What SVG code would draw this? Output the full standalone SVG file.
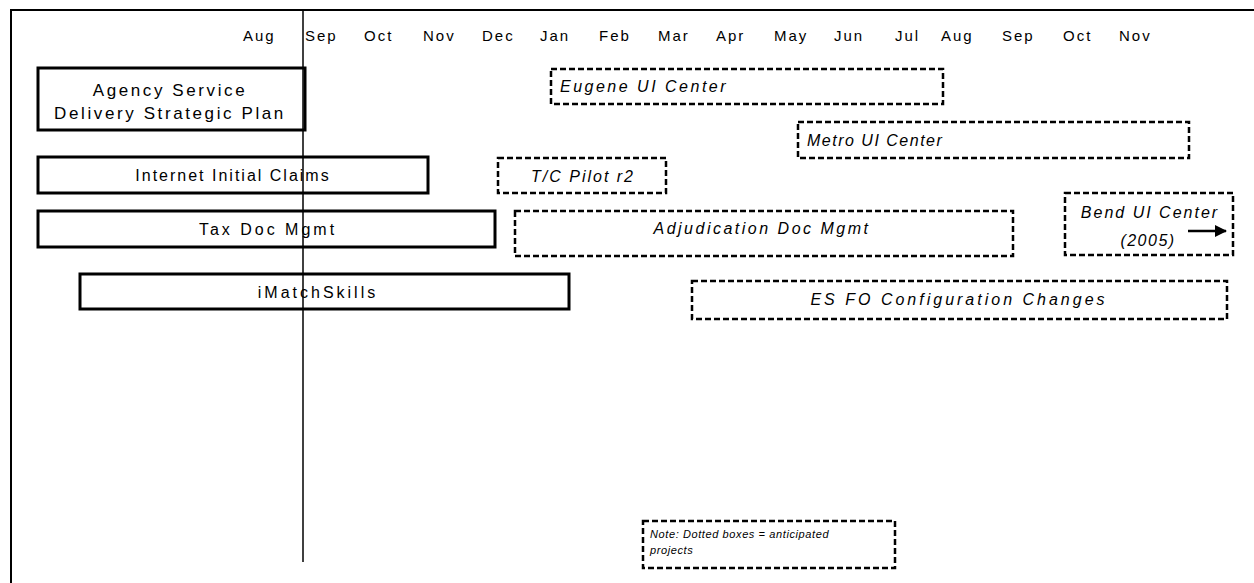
<svg xmlns="http://www.w3.org/2000/svg" width="1254" height="583" viewBox="0 0 1254 583">
<defs>
<style>
.frame{stroke:#000;fill:none}
.solid{fill:#fff;stroke:#000;stroke-width:3}
.dash{fill:#fff;stroke:#000;stroke-width:2.5;stroke-dasharray:6 3}
.t{font-family:"Liberation Sans",Arial,sans-serif;font-size:16px;letter-spacing:2.5px;fill:#000}
.m{font-family:"Liberation Sans",Arial,sans-serif;font-size:15px;letter-spacing:2px;fill:#000}
.i{font-style:italic}
.note{font-family:"Liberation Sans",Arial,sans-serif;font-size:11px;font-style:italic;fill:#000;letter-spacing:0.6px}
</style>
<marker id="ah" markerWidth="12" markerHeight="12" refX="11" refY="6" orient="auto" markerUnits="userSpaceOnUse">
<path d="M0,0 L12,6 L0,12 Z" fill="#000"/>
</marker>
</defs>
<rect width="1254" height="583" fill="#fff"/>
<g id="frame">
<line class="frame" x1="10" y1="10" x2="1254" y2="10" stroke-width="2"/>
<line class="frame" x1="11" y1="10" x2="11" y2="583" stroke-width="2"/>
</g>
<g id="months" class="m">
<text x="243" y="41">Aug</text>
<text x="305" y="41">Sep</text>
<text x="364" y="41">Oct</text>
<text x="423" y="41">Nov</text>
<text x="482" y="41">Dec</text>
<text x="540" y="41">Jan</text>
<text x="599" y="41">Feb</text>
<text x="658" y="41">Mar</text>
<text x="716" y="41">Apr</text>
<text x="774" y="41">May</text>
<text x="834" y="41">Jun</text>
<text x="895" y="41">Jul</text>
<text x="941" y="41">Aug</text>
<text x="1002" y="41">Sep</text>
<text x="1063" y="41">Oct</text>
<text x="1119" y="41">Nov</text>
</g>
<g id="agency">
<rect class="solid" x="38" y="68" width="267" height="62"/>
<text class="t" x="170" y="96" text-anchor="middle" style="font-size:17px;letter-spacing:2.6px">Agency Service</text>
<text class="t" x="170" y="119" text-anchor="middle" style="font-size:17px;letter-spacing:2.6px">Delivery Strategic Plan</text>
</g>
<g id="internet">
<rect class="solid" x="38" y="157" width="390" height="36"/>
<text class="t" x="233" y="181" text-anchor="middle" style="letter-spacing:2px">Internet Initial Claims</text>
</g>
<g id="taxdoc">
<rect class="solid" x="38" y="211" width="457" height="36"/>
<text class="t" x="268" y="235" text-anchor="middle" style="letter-spacing:3px">Tax Doc Mgmt</text>
</g>
<g id="imatch">
<rect class="solid" x="80" y="274" width="489" height="35"/>
<text class="t" x="318" y="298" text-anchor="middle" style="letter-spacing:3px">iMatchSkills</text>
</g>
<g id="eugene">
<rect class="dash" x="551" y="69" width="392" height="35"/>
<text class="t i" x="560" y="92">Eugene  UI Center</text>
</g>
<g id="metro">
<rect class="dash" x="798" y="122" width="391" height="36"/>
<text class="t i" x="807" y="146" style="letter-spacing:1.5px">Metro UI Center</text>
</g>
<g id="tcpilot">
<rect class="dash" x="498" y="158" width="168" height="35"/>
<text class="t i" x="583" y="182" text-anchor="middle" style="letter-spacing:2px">T/C Pilot r2</text>
</g>
<g id="adjudication">
<rect class="dash" x="515" y="211" width="498" height="45"/>
<text class="t i" x="762" y="234" text-anchor="middle">Adjudication Doc Mgmt</text>
</g>
<g id="bend">
<rect class="dash" x="1065" y="193" width="168" height="62"/>
<text class="t i" x="1150" y="218" text-anchor="middle" style="letter-spacing:2px">Bend UI Center</text>
<text class="t i" x="1148" y="246" text-anchor="middle" style="letter-spacing:1.5px">(2005)</text>
</g>
<g id="esfo">
<rect class="dash" x="692" y="281" width="535" height="38"/>
<text class="t i" x="959" y="305" text-anchor="middle" style="letter-spacing:3px">ES FO Configuration Changes</text>
</g>
<g id="note">
<rect class="dash" x="643" y="521" width="252" height="47"/>
<text class="note" x="650" y="538">Note: Dotted boxes = anticipated</text>
<text class="note" x="650" y="554">projects</text>
</g>
<g id="connectors">
<line x1="303" y1="10" x2="303" y2="562" stroke="#000" stroke-width="1.5"/>
<line x1="1188" y1="231" x2="1226" y2="231" stroke="#000" stroke-width="2.5" marker-end="url(#ah)"/>
</g>
</svg>
